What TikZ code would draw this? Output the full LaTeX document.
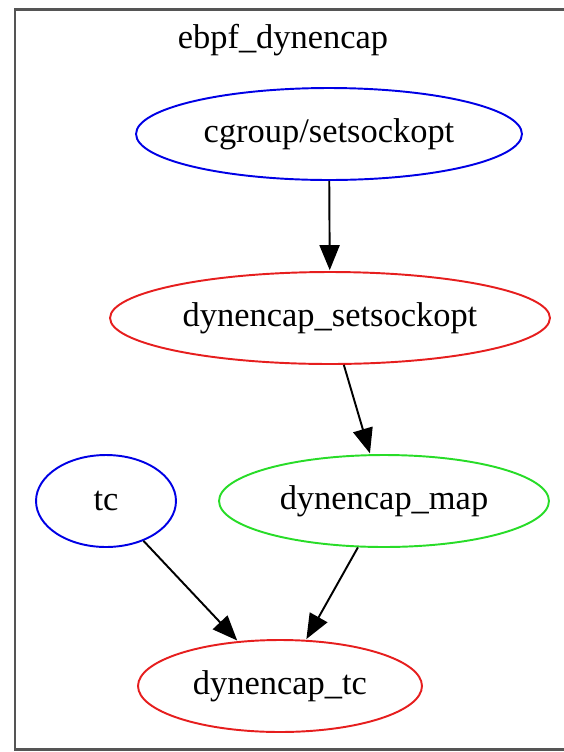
\documentclass[tikz,border=0pt]{standalone}
\usepackage{fontspec}
\setmainfont{Liberation Serif}
\usetikzlibrary{shapes.geometric}
\usetikzlibrary{arrows.meta}

\tikzset{
  oval/.style={ellipse, draw, line width=1.1pt, inner sep=0pt, minimum height=1.84cm,
    label={[font=\fontsize{19.6}{23}\selectfont]center:#1}},
  blueoval/.style={oval=#1, draw=blue!90!black},
  redoval/.style={oval=#1, draw={rgb,255:red,230;green,30;blue,30}},
  greenoval/.style={oval=#1, draw={rgb,255:red,40;green,220;blue,40}},
  flow/.style={line width=1.1pt, -{Triangle[length=0.5cm,width=0.4cm]}, shorten >=0.5pt}
}

\begin{document}
\begin{tikzpicture}[x=0.02cm, y=-0.02cm]
\useasboundingbox (0,0) rectangle (564,752);
\clip (0,0) rectangle (564,752);
\draw[line width=1.7pt, draw={rgb,255:red,85;green,85;blue,85}] (15,9) rectangle (600,749);
\node[font=\fontsize{19.6}{23}\selectfont] (title) at (283,40) {ebpf\_dynencap};

\node[blueoval={cgroup/setsockopt}, minimum width=7.72cm] (cgroup) at (329,134) {};
\node[redoval={dynencap\_setsockopt}, minimum width=8.8cm] (setsock) at (330,318) {};
\node[blueoval={tc}, minimum width=2.8cm] (tc) at (106,501) {};
\node[greenoval={dynencap\_map}, minimum width=6.6cm] (map) at (384,501) {};
\node[redoval={dynencap\_tc}, minimum width=5.68cm] (dyntc) at (280,686) {};

\draw[flow] (cgroup) -- (setsock);
\draw[flow] (setsock) -- (map);
\draw[flow] (tc) -- (dyntc);
\draw[flow] (map) -- (dyntc);

\end{tikzpicture}
\end{document}
